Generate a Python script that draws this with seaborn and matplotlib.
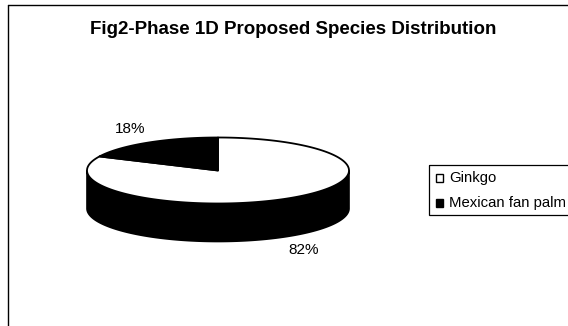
import numpy as np
import matplotlib
matplotlib.use("Agg")
import matplotlib.pyplot as plt
from matplotlib.patches import Polygon, Rectangle
import seaborn as sns

# Species shares (percent)
species = ["Ginkgo", "Mexican fan palm"]
shares = [82, 18]
slice_colors = ["white", "black"]
title = "Fig2-Phase 1D Proposed Species Distribution"

sns.set_theme(style="white")
plt.rcParams["font.family"] = ["Liberation Sans", "DejaVu Sans"]
plt.rcParams["text.color"] = "black"

fig = plt.figure(figsize=(5.68, 3.26), dpi=100)
ax = fig.add_axes([0, 0, 1, 1])
ax.set_xlim(0, 568)
ax.set_ylim(326, 0)
ax.axis("off")

# chart frame (top and left edges)
ax.plot([8, 570], [5, 5], color="black", lw=1.0)
ax.plot([8, 8], [5, 330], color="black", lw=1.0)

ax.text(293.5, 30, title, ha="center", va="center", fontsize=13.5, fontweight="bold")

# tilted pie geometry
cx, cy, a, b, depth = 218.0, 170.5, 131.0, 33.0, 38.0


def pt(theta_deg, dy=0.0):
    t = np.radians(theta_deg)
    return cx + a * np.cos(t), cy - b * np.sin(t) + dy


# slices run clockwise from 12 o'clock: Ginkgo first
starts = []
ang = 90.0
for v in shares:
    sweep = 360.0 * v / sum(shares)
    starts.append((ang, ang - sweep))
    ang -= sweep

# visible front wall (lower half of the rim)
th = np.linspace(180, 360, 200)
top = np.array([pt(t) for t in th])
bot = np.array([pt(t, depth) for t in th[::-1]])
ax.add_patch(Polygon(np.vstack([top, bot]), closed=True, facecolor="black",
                     edgecolor="black", lw=1.2))

# top faces of the slices
for (s, e), c in zip(starts, slice_colors):
    th = np.linspace(s, e, 200)
    pts = [(cx, cy)] + [pt(t) for t in th]
    ax.add_patch(Polygon(pts, closed=True, facecolor=c, edgecolor="black", lw=1.3,
                         joinstyle="round"))

# percentage labels outside each slice
label_pos = [(304, 249.5), (130, 129)]
for v, (x, y) in zip(shares, label_pos):
    ax.text(x, y, f"{v}%", ha="center", va="center", fontsize=11)

# legend box
ax.add_patch(Rectangle((429, 165), 200, 50, fill=False, edgecolor="black", lw=0.9))
for i, (name, c) in enumerate(zip(species, slice_colors)):
    y = 178 + 25 * i
    ax.add_patch(Rectangle((435.5, y - 3.75), 7.5, 7.5, facecolor=c, edgecolor="black", lw=1.0))
    ax.text(449, y, name, ha="left", va="center", fontsize=10.7)

fig.savefig("out.png", dpi=100)
